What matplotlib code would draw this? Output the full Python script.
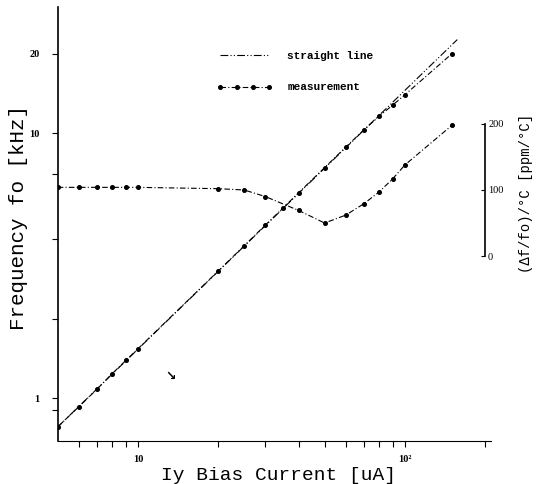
import matplotlib
matplotlib.use("Agg")
import matplotlib.pyplot as plt
from matplotlib.ticker import FixedLocator, NullFormatter, FixedFormatter

# values
bias_ua = [5, 6, 7, 8, 9, 10, 20, 25, 30, 35, 40, 50, 60, 70, 80, 90, 100, 150]
freq_khz = [0.78, 0.93, 1.08, 1.24, 1.39, 1.54, 3.03, 3.77, 4.51, 5.24, 5.98, 7.43,
            8.88, 10.3, 11.6, 12.8, 14.0, 20.0]
line_ua = [5, 157]
line_khz = [0.78, 22.6]
tc_ua = [5, 6, 7, 8, 9, 10, 20, 25, 30, 40, 50, 60, 70, 80, 90, 100, 150]
tc_ppm = [104, 104, 104, 104, 104, 104, 102, 100, 90, 69, 50, 62, 79, 97, 117, 138, 198]

mono = "Liberation Mono"
serif = "Liberation Serif"

fig = plt.figure(figsize=(5.36, 4.84), dpi=100)
ax = fig.add_axes([0.1077, 0.0888, 0.8083, 0.8967])
ax.set_xscale("log")
ax.set_yscale("log")
ax.set_xlim(5, 210)
ax.set_ylim(0.69, 30)

ax.plot(line_ua, line_khz, color="black", lw=0.8,
        ls=(0, (7, 2, 1, 2, 1, 2)), label="straight line")
ax.plot(bias_ua, freq_khz, color="black", lw=0.8, ls=(0, (5, 2, 1, 2)),
        marker="o", ms=2.6, label="measurement")

for s in ["top", "right"]:
    ax.spines[s].set_visible(False)
ax.spines["left"].set_linewidth(1.2)
ax.spines["bottom"].set_linewidth(0.8)

ax.xaxis.set_major_locator(FixedLocator([10, 100]))
ax.xaxis.set_major_formatter(FixedFormatter(["10", "10²"]))
ax.xaxis.set_minor_locator(FixedLocator([6, 7, 8, 9, 20, 30, 40, 50, 60, 70, 80, 90, 200]))
ax.xaxis.set_minor_formatter(NullFormatter())
ax.yaxis.set_major_locator(FixedLocator([1, 10, 20]))
ax.yaxis.set_major_formatter(FixedFormatter(["1", "10", "20"]))
ax.yaxis.set_minor_locator(FixedLocator([0.9, 2, 4, 7]))
ax.yaxis.set_minor_formatter(NullFormatter())
ax.tick_params(which="both", direction="out", length=4, width=0.8)
ax.tick_params(axis="x", pad=6)
ax.tick_params(axis="y", pad=9)
for lab in ax.get_xticklabels() + ax.get_yticklabels():
    lab.set_family(serif)
    lab.set_fontsize(7.5)
    lab.set_fontweight("bold")

ax.set_xlabel("Iy Bias Current [uA]", family=mono, fontsize=14)
ax.xaxis.set_label_coords(0.509, -0.06)
ax.set_ylabel("Frequency fo [kHz]", family=mono, fontsize=15)
ax.yaxis.set_label_coords(-0.068, 0.514)

leg = ax.legend(loc="upper left", bbox_to_anchor=(0.368, 0.898), frameon=False,
                borderpad=0, borderaxespad=0, handlelength=5.0, handletextpad=1.3,
                labelspacing=1.9, numpoints=4, prop={"family": mono, "size": 8, "weight": "bold"})

ax.text(13.2, 1.21, "↘", fontsize=9, fontweight="bold", ha="center", va="center")

# secondary scale drawn as a short spine on the right
ax2 = ax.twinx()
ax2.set_ylim(-280, 377)
ax2.plot(tc_ua, tc_ppm, color="black", lw=0.8, ls=(0, (5, 2, 1, 2)),
         marker="o", ms=2.6)
for s in ["top", "left", "bottom"]:
    ax2.spines[s].set_visible(False)
ax2.spines["right"].set_position(("data", 200))
ax2.spines["right"].set_bounds(0, 200)
ax2.spines["right"].set_linewidth(1.2)
ax2.set_yticks([0, 100, 200])
ax2.set_yticklabels(["0", "100", "200"])
ax2.tick_params(axis="y", direction="in", length=3, pad=2)
for lab in ax2.get_yticklabels():
    lab.set_family(serif)
    lab.set_fontsize(7.5)

fig.text(0.981, 0.60, "(Δf/fo)/°C [ppm/°C]", rotation=90, family=mono,
         fontsize=10, ha="center", va="center")

fig.savefig("out.png", dpi=100)
